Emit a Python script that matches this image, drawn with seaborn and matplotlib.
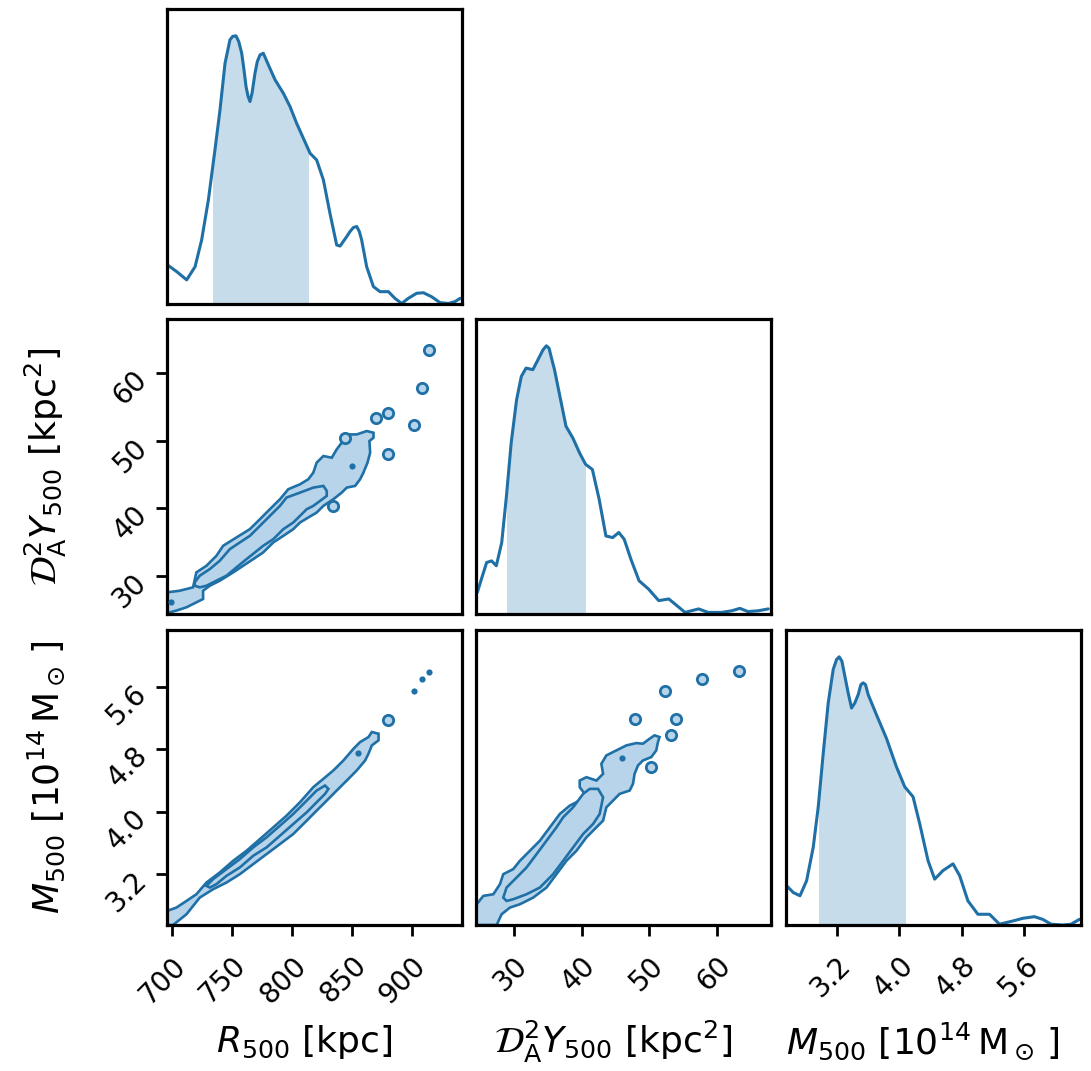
import numpy as np
import matplotlib
matplotlib.use("Agg")
import matplotlib.pyplot as plt
import seaborn as sns
from matplotlib.patches import Rectangle

# ---------------- data ----------------
# 1D marginal densities (normalised to peak = 1)
r500_x = [696.3, 704.0, 712.4, 719.4, 724.9, 730.5, 736.0, 740.2, 744.4, 748.5, 750.8, 753.5,
          755.8, 758.3, 760.2, 761.9, 763.6, 765.2, 766.9, 769.4, 771.3, 773.6, 776.3, 780.5,
          786.1, 793.0, 798.6, 804.1, 809.7, 815.3, 820.8, 826.4, 831.9, 837.5, 840.3, 843.0,
          845.8, 848.6, 851.4, 854.2, 856.4, 858.3, 862.5, 868.1, 873.6, 880.6, 886.1, 891.7,
          897.2, 904.2, 909.8, 916.7, 923.7, 930.6, 936.2, 940.4]
r500_d = [0.146, 0.121, 0.090, 0.139, 0.239, 0.388, 0.575, 0.724, 0.898, 0.985, 0.998, 1.000,
          0.979, 0.935, 0.873, 0.811, 0.774, 0.755, 0.786, 0.861, 0.904, 0.929, 0.935, 0.892,
          0.836, 0.786, 0.736, 0.674, 0.618, 0.562, 0.537, 0.463, 0.338, 0.220, 0.216, 0.233,
          0.251, 0.270, 0.285, 0.289, 0.270, 0.239, 0.139, 0.065, 0.046, 0.046, 0.021, 0.002,
          0.021, 0.040, 0.042, 0.027, 0.005, 0.002, 0.009, 0.021]
r500_ci = [734.6, 813.3]

y500_x = [24.6, 25.2, 25.97, 26.7, 27.4, 28.2, 28.9, 29.6, 30.4, 31.1, 31.8, 32.8, 33.8, 34.3,
          34.8, 35.2, 35.5, 36.0, 36.5, 37.7, 38.7, 39.7, 40.6, 41.6, 42.6, 43.6, 44.6, 45.5,
          46.3, 47.3, 48.5, 49.9, 51.4, 52.9, 54.1, 55.3, 57.3, 58.7, 60.7, 62.2, 63.4, 64.6,
          66.1, 67.6]
y500_d = [0.081, 0.130, 0.192, 0.198, 0.180, 0.266, 0.440, 0.638, 0.799, 0.886, 0.917, 0.911,
          0.960, 0.985, 1.000, 0.991, 0.960, 0.911, 0.849, 0.700, 0.657, 0.601, 0.558, 0.539,
          0.428, 0.291, 0.285, 0.304, 0.279, 0.204, 0.124, 0.093, 0.050, 0.056, 0.031, 0.006,
          0.019, 0.006, 0.006, 0.012, 0.021, 0.009, 0.012, 0.019]
y500_ci = [29.0, 40.5]

m500_x = [2.559, 2.644, 2.729, 2.814, 2.899, 2.963, 3.027, 3.091, 3.155, 3.198, 3.232, 3.266,
          3.304, 3.347, 3.390, 3.432, 3.475, 3.509, 3.539, 3.569, 3.603, 3.709, 3.837, 3.965,
          4.072, 4.178, 4.263, 4.370, 4.455, 4.562, 4.690, 4.775, 4.881, 5.009, 5.158, 5.286,
          5.457, 5.585, 5.734, 5.840, 5.947, 6.096, 6.203, 6.309]
m500_d = [0.146, 0.121, 0.109, 0.165, 0.290, 0.440, 0.640, 0.828, 0.953, 0.990, 1.000, 0.984,
          0.928, 0.865, 0.809, 0.828, 0.859, 0.896, 0.903, 0.896, 0.859, 0.784, 0.696, 0.590,
          0.515, 0.478, 0.378, 0.240, 0.171, 0.203, 0.228, 0.184, 0.090, 0.040, 0.040, 0.003,
          0.015, 0.025, 0.031, 0.021, 0.003, 0.000, 0.003, 0.021]
m500_ci = [2.972, 4.072]

# 2D credible contours (outer / inner outlines) -- R500 vs D_A^2 Y500
ry_outer_r = [696.0, 706.6, 717.7, 720.5, 728.9, 737.2, 742.8, 753.9, 765.1, 773.5, 781.8, 790.2,
              797.1, 806.9, 813.8, 818.0, 820.8, 826.4, 833.4, 837.5, 841.7, 841.7, 845.9, 854.2,
              862.6, 868.2, 868.2, 864.8, 865.4, 863.2, 859.8, 857.0, 852.9, 845.9, 841.7, 834.7,
              826.4, 820.8, 813.8, 806.9, 801.3, 793.0, 784.6, 776.2, 767.9, 759.5, 751.2, 740.0,
              731.7, 726.1, 726.1, 720.5, 712.2, 703.8, 696.0]
ry_outer_y = [27.60, 27.84, 28.34, 30.55, 31.53, 33.00, 34.48, 35.71, 36.94, 38.41, 39.89, 41.36,
              42.84, 43.57, 44.31, 45.29, 46.77, 47.75, 47.50, 48.73, 49.72, 50.45, 50.94, 50.94,
              51.44, 51.19, 50.45, 49.96, 48.24, 46.77, 45.29, 44.31, 43.33, 43.08, 42.34, 41.36,
              40.38, 39.39, 38.66, 37.92, 36.94, 35.95, 34.97, 33.50, 32.51, 31.53, 30.55, 29.32,
              28.58, 27.84, 26.62, 26.12, 25.39, 24.90, 24.55]
ry_inner_r = [719.1, 723.3, 731.7, 740.0, 748.4, 756.7, 765.1, 773.5, 781.8, 790.2, 795.7, 806.9,
              818.0, 826.4, 829.2, 829.2, 823.6, 818.0, 812.5, 806.9, 801.3, 793.0, 784.6, 776.2,
              769.3, 762.3, 753.9, 745.6, 737.2, 728.9, 723.3, 719.1]
ry_inner_y = [29.07, 30.06, 31.04, 32.27, 33.99, 34.97, 35.95, 37.43, 38.90, 40.38, 41.61, 42.34,
              43.08, 43.33, 42.59, 41.85, 41.11, 40.38, 39.89, 38.90, 37.92, 36.94, 35.46, 34.48,
              33.50, 32.51, 31.29, 30.06, 29.32, 28.58, 28.34, 28.58]
ry_rings_r = [914.7, 908.6, 880.7, 870.1, 901.6, 879.9, 844.5, 834.7]
ry_rings_y = [63.48, 57.83, 54.04, 53.40, 52.32, 48.00, 50.45, 40.38]
ry_dots_r = [850.1, 699.6]
ry_dots_y = [46.28, 26.12]

# R500 vs M500
rm_outer_r = [696.0, 703.8, 712.2, 720.5, 728.9, 740.0, 751.2, 762.3, 773.5, 784.6, 795.7, 806.9,
              818.0, 826.4, 834.7, 843.1, 851.5, 857.0, 864.0, 866.8, 872.4, 872.4, 866.8, 864.0,
              861.2, 854.2, 845.9, 837.5, 829.2, 820.8, 812.5, 801.3, 790.2, 779.0, 767.9, 756.7,
              745.6, 734.4, 723.3, 712.2, 705.2, 701.0, 696.0]
rm_outer_m = [2.730, 2.773, 2.858, 2.944, 3.094, 3.223, 3.373, 3.501, 3.651, 3.801, 3.951, 4.123,
              4.316, 4.423, 4.530, 4.658, 4.808, 4.894, 4.958, 5.023, 5.001, 4.916, 4.851, 4.744,
              4.658, 4.530, 4.401, 4.273, 4.144, 4.016, 3.887, 3.716, 3.587, 3.458, 3.330, 3.201,
              3.094, 3.008, 2.901, 2.687, 2.601, 2.550, 2.550]
rm_inner_r = [728.9, 734.4, 745.6, 756.7, 767.9, 779.0, 790.2, 801.3, 812.5, 820.8, 827.8, 830.6,
              827.8, 820.8, 812.5, 801.3, 790.2, 779.0, 767.9, 756.7, 745.6, 737.2, 731.7]
rm_inner_m = [3.051, 3.137, 3.266, 3.394, 3.544, 3.673, 3.823, 3.973, 4.144, 4.273, 4.337, 4.294,
              4.230, 4.123, 3.994, 3.844, 3.694, 3.544, 3.437, 3.287, 3.180, 3.073, 3.030]
rm_rings_r = [880.7]
rm_rings_m = [5.181]
rm_dots_r = [901.6, 908.6, 914.2, 855.6]
rm_dots_m = [5.550, 5.696, 5.794, 4.753]

# D_A^2 Y500 vs M500
ym_outer_y = [24.40, 24.50, 25.48, 26.96, 27.94, 28.43, 29.90, 30.89, 32.36, 33.84, 35.31, 36.79,
              38.26, 39.73, 40.47, 39.73, 39.73, 40.72, 42.19, 43.18, 42.93, 43.67, 45.14, 46.62,
              48.09, 49.07, 50.06, 50.79, 51.53, 51.29, 51.04, 50.30, 49.07, 48.34, 47.84, 47.60,
              47.11, 45.63, 44.65, 43.67, 43.18, 42.19, 40.72, 39.24, 37.77, 36.29, 34.82, 32.85,
              30.89, 29.41, 28.18, 27.45]
ym_outer_m = [2.550, 2.816, 2.923, 2.944, 3.073, 3.201, 3.266, 3.373, 3.501, 3.630, 3.801, 3.973,
              4.080, 4.144, 4.230, 4.316, 4.401, 4.444, 4.401, 4.487, 4.616, 4.723, 4.787, 4.851,
              4.881, 4.873, 4.937, 4.980, 4.958, 4.894, 4.787, 4.701, 4.658, 4.594, 4.487, 4.358,
              4.273, 4.230, 4.144, 4.058, 3.887, 3.801, 3.673, 3.501, 3.373, 3.201, 3.030, 2.901,
              2.816, 2.773, 2.687, 2.550]
ym_inner_y = [28.43, 28.92, 30.40, 31.87, 33.35, 34.82, 36.29, 37.28, 38.75, 40.23, 41.21, 42.44,
              43.18, 42.68, 41.70, 40.23, 38.75, 37.28, 35.80, 33.84, 31.87, 29.90, 28.92]
ym_inner_m = [2.901, 3.030, 3.158, 3.287, 3.458, 3.630, 3.801, 3.930, 4.058, 4.230, 4.294, 4.294,
              4.187, 3.973, 3.844, 3.716, 3.544, 3.373, 3.201, 3.030, 2.944, 2.880, 2.858]
ym_rings_y = [63.33, 57.77, 52.37, 47.84, 53.99, 53.25, 50.30]
ym_rings_m = [5.807, 5.696, 5.550, 5.186, 5.186, 4.988, 4.573]
ym_dots_y = [46.03]
ym_dots_m = [4.693]

r_ticks = [700, 750, 800, 850, 900]
y_ticks = [30, 40, 50, 60]
m_ticks = [3.2, 4.0, 4.8, 5.6]
r_lim = (696, 942)
y_lim = (24.4, 68.0)
m_lim = (2.55, 6.33)

r_label = r"$R_{500}$ [kpc]"
y_label = r"$\mathcal{D}_{\rm A}^{2}Y_{500}$ [kpc$^{2}$]"
m_label = r"$M_{500}$ [$10^{14}\,\mathrm{M}_\odot\,$]"

# ---------------- style ----------------
sns.set_style("ticks")
plt.rcParams["font.family"] = ["DejaVu Sans"]
plt.rcParams["mathtext.fontset"] = "dejavusans"
for k in ["text.color", "axes.labelcolor", "xtick.color", "ytick.color", "axes.edgecolor"]:
    plt.rcParams[k] = "black"

LINE = "#1f70a6"
FILL = "#b7d4ea"
CI_FILL = "#c7dceb"
TICK_FS = 20
LAB_FS = 26

W, H = 1091, 1071
fig = plt.figure(figsize=(W / 100, H / 100), dpi=100)

col_left = [167, 476, 786]
row_top = [9, 319, 630]
size = 295


def make_ax(r, c):
    l = col_left[c] / W
    b = 1 - (row_top[r] + size) / H
    return fig.add_axes([l, b, size / W, size / H])


axes = {}
for r in range(3):
    for c in range(r + 1):
        axes[(r, c)] = make_ax(r, c)


def style(ax):
    for s in ax.spines.values():
        s.set_linewidth(2.3)
        s.set_color("black")
        s.set_visible(True)
    ax.tick_params(length=8, width=2, labelsize=TICK_FS, direction="out",
                   pad=11, color="black", labelcolor="black")


def diag(ax, xs, ds, ci, lim):
    poly = ax.fill_between(xs, 0, ds, color=CI_FILL, lw=0)
    rect = Rectangle((ci[0], 0), ci[1] - ci[0], 2, transform=ax.transData)
    poly.set_clip_path(rect)
    sns.lineplot(x=xs, y=ds, ax=ax, color=LINE, lw=2.2, estimator=None, sort=False)
    ax.set_xlim(*lim)
    ax.set_ylim(0, 1.10)
    ax.set_yticks([])


def joint(ax, ox, oy, ix, iy, rx, ry, dx, dy, xlim, ylim):
    ax.fill(ox, oy, facecolor=FILL, edgecolor=LINE, lw=1.9)
    ax.fill(ix, iy, facecolor=FILL, edgecolor=LINE, lw=1.9)
    sns.scatterplot(x=rx, y=ry, ax=ax, marker="o", s=55, facecolor=FILL,
                    edgecolor=LINE, linewidth=2.0, zorder=3)
    sns.scatterplot(x=dx, y=dy, ax=ax, marker="o", s=20, color=LINE,
                    edgecolor=LINE, linewidth=0, zorder=3)
    ax.set_xlim(*xlim)
    ax.set_ylim(*ylim)


# diagonals
diag(axes[(0, 0)], r500_x, r500_d, r500_ci, r_lim)
diag(axes[(1, 1)], y500_x, y500_d, y500_ci, y_lim)
diag(axes[(2, 2)], m500_x, m500_d, m500_ci, m_lim)

# off diagonals
joint(axes[(1, 0)], ry_outer_r, ry_outer_y, ry_inner_r, ry_inner_y,
      ry_rings_r, ry_rings_y, ry_dots_r, ry_dots_y, r_lim, y_lim)
joint(axes[(2, 0)], rm_outer_r, rm_outer_m, rm_inner_r, rm_inner_m,
      rm_rings_r, rm_rings_m, rm_dots_r, rm_dots_m, r_lim, m_lim)
joint(axes[(2, 1)], ym_outer_y, ym_outer_m, ym_inner_y, ym_inner_m,
      ym_rings_y, ym_rings_m, ym_dots_y, ym_dots_m, y_lim, m_lim)

lims = {0: (r_lim, r_ticks, r_label), 1: (y_lim, y_ticks, y_label), 2: (m_lim, m_ticks, m_label)}

for (r, c), ax in axes.items():
    style(ax)
    ax.set_xlabel("")
    ax.set_ylabel("")
    if r == 2:
        lim, ticks, lab = lims[c]
        ax.set_xticks(ticks)
        ax.set_xticklabels([f"{t:g}" if c < 2 else f"{t:.1f}" for t in ticks],
                           rotation=45, ha="right", rotation_mode="anchor")
        ax.set_xlabel(lab, fontsize=LAB_FS)
        ax.xaxis.set_label_coords(0.465, -0.395)
        ax.xaxis.label.set_va("center")
    else:
        ax.set_xticks([])
    if c == 0 and r > 0:
        lim, ticks, lab = lims[r]
        ax.set_yticks(ticks)
        ax.set_yticklabels([f"{t:g}" if r < 2 else f"{t:.1f}" for t in ticks],
                           rotation=45, ha="right", rotation_mode="anchor")
        ax.set_ylabel(lab, fontsize=LAB_FS)
        ax.yaxis.set_label_coords(-0.41, 0.5)
        ax.yaxis.label.set_va("center")
    else:
        ax.set_yticks([])

fig.savefig("out.png", dpi=100)
